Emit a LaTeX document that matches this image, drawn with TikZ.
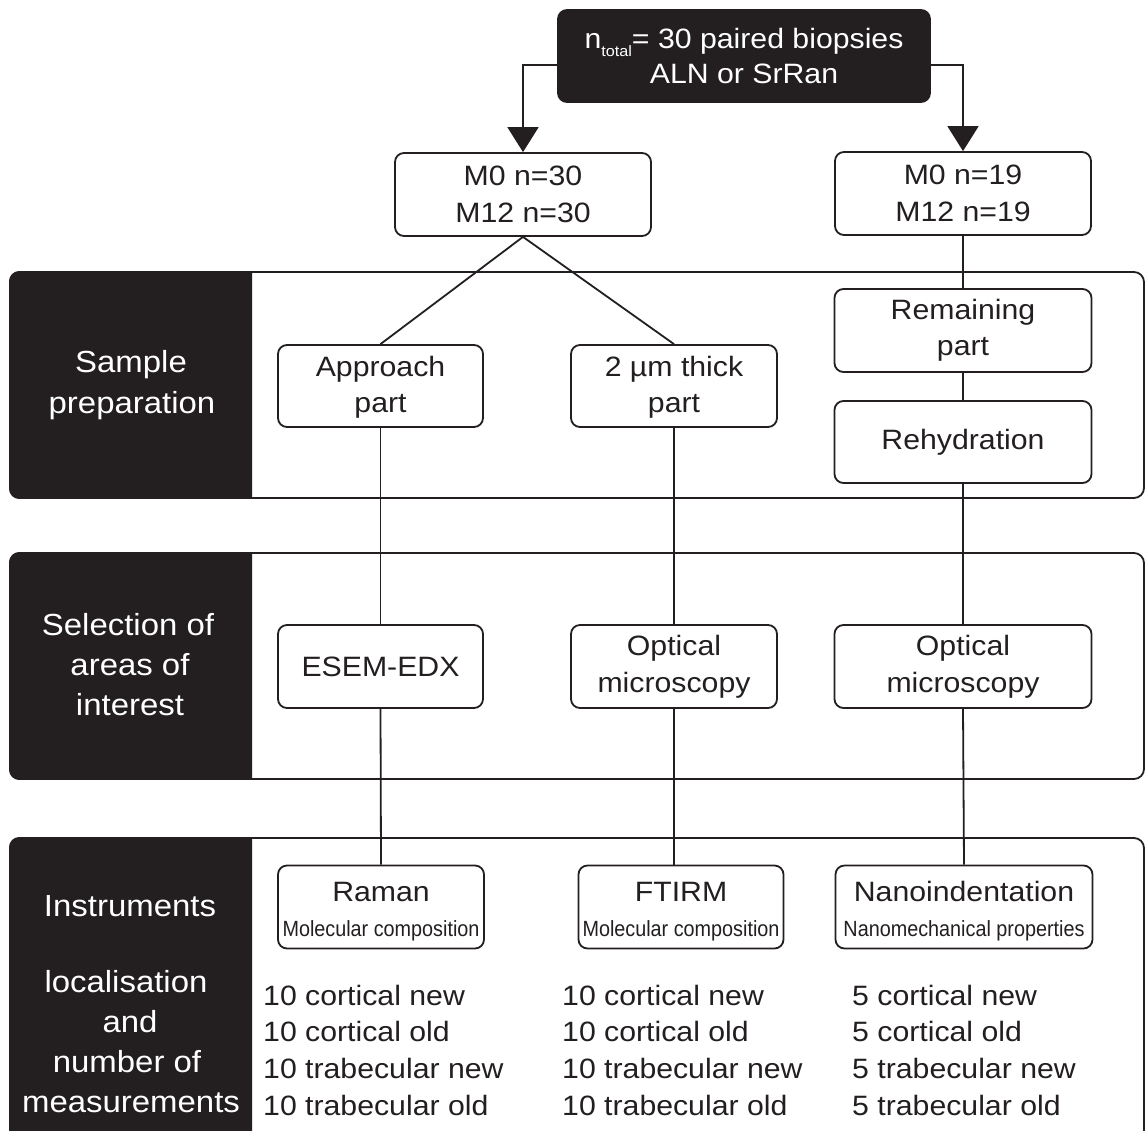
\documentclass[tikz,border=0pt]{standalone}
\usepackage{fontspec}
\setmainfont{Liberation Sans}[FakeStretch=1.08]
\newfontfamily\narrowf{Liberation Sans}[FakeStretch=0.9]
\usetikzlibrary{arrows.meta}
\definecolor{ink}{RGB}{35,31,32}
\newcommand{\subf}{\narrowf\fontsize{22}{26}\selectfont}
\newcommand{\topstrut}{\rule{0pt}{29pt}}
\begin{document}
\begin{tikzpicture}[x=1pt,y=-1pt,
  box/.style={draw=ink, line width=1.8pt, rounded corners=9pt, fill=white, align=center, inner sep=0pt,
    text=ink, font=\fontsize{28}{36.5}\selectfont},
  blackbox/.style={box, fill=ink, text=white},
  conn/.style={draw=ink, line width=1.8pt},
  band/.style={draw=ink, line width=1.8pt, rounded corners=10pt},
  lab/.style={text=white, font=\fontsize{30.5}{40}\selectfont, anchor=base, inner sep=0pt},
  data/.style={text=ink, font=\fontsize{28}{36.7}\selectfont, anchor=base west, inner sep=0pt},
  tip/.style={-{Triangle[width=31pt,length=25pt]}}
]
\useasboundingbox (0,0) rectangle (1145,1130);
\fill[white] (0,0) rectangle (1145,1130);

% bands
\begin{scope}
\clip (0,0) rectangle (1145,1130);
\draw[band] (10,272) rectangle (1144,498);
\draw[band] (10,553) rectangle (1144,779);
\draw[band] (10,838) rectangle (1144,1170);
\begin{scope}
\clip (0,0) rectangle (252,1130);
\fill[ink, rounded corners=10pt] (9.1,271.1) rectangle (300,498.9);
\fill[ink, rounded corners=10pt] (9.1,552.1) rectangle (300,779.9);
\fill[ink, rounded corners=10pt] (9.1,837.1) rectangle (300,1170);
\end{scope}
\end{scope}

% left labels
\node[lab] (s1a) at (131,372) {Sample};
\node[lab] (s1b) at (132,413) {preparation};
\node[lab] (s2a) at (128,635) {Selection of};
\node[lab] (s2b) at (130,675) {areas of};
\node[lab] (s2c) at (130,715) {interest};
\node[lab] (s3a) at (130,916) {Instruments};
\node[lab] (s3b) at (126,992) {localisation};
\node[lab] (s3c) at (130,1032) {and};
\node[lab] (s3d) at (127,1072) {number of};
\node[lab] (s3e) at (131,1112) {measurements};

% boxes
\node[blackbox, minimum width=372pt, minimum height=92pt] (top) at (744,56)
  {n\raisebox{-8pt}{\fontsize{15}{15}\selectfont total}= 30 paired biopsies\\[-1pt]ALN or SrRan};
\node[box, minimum width=256pt, minimum height=83pt] (m30) at (523,194.5) {M0 n=30\\M12 n=30};
\node[box, minimum width=256pt, minimum height=83pt] (m19) at (963,193.5) {M0 n=19\\M12 n=19};
\node[box, minimum width=205pt, minimum height=82pt] (appr) at (380.5,386) {\rule{0pt}{23pt}Approach\\part};
\node[box, minimum width=206pt, minimum height=82pt] (thick) at (674,386) {\rule{0pt}{23pt}2 µm thick\\part};
\node[box, minimum width=257pt, minimum height=83pt] (rem) at (963,330.5) {Remaining\\part};
\node[box, minimum width=257pt, minimum height=82pt] (rehy) at (963,442) {Rehydration};
\node[box, minimum width=205pt, minimum height=83pt] (esem) at (380.5,666.5) {ESEM-EDX};
\node[box, minimum width=206pt, minimum height=83pt] (opt1) at (674,666.5) {Optical\\microscopy};
\node[box, minimum width=257pt, minimum height=83pt] (opt2) at (963,666.5) {Optical\\microscopy};
\node[box, minimum width=206pt, minimum height=83pt] (raman) at (381,907) {\topstrut Raman\\[-1pt]{\subf Molecular composition}};
\node[box, minimum width=205pt, minimum height=83pt] (ftirm) at (681,907) {\topstrut FTIRM\\[-1pt]{\subf Molecular composition}};
\node[box, minimum width=257pt, minimum height=83pt] (nano) at (964,907) {\topstrut Nanoindentation\\[-1pt]{\subf Nanomechanical properties}};

% connectors
\draw[conn, tip] ([yshift=-9pt]top.west) -| (m30.north);
\draw[conn, tip] ([yshift=-9pt]top.east) -| (m19.north);
\draw[conn] (m30.south) -- (appr.north);
\draw[conn] (m30.south) -- (thick.north);
\draw[conn] (m19.south) -- (rem.north);
\draw[conn] (rem.south) -- (rehy.north);
\draw[conn] (rehy.south) -- (opt2.north);
\draw[conn] (opt2.south) -- (nano.north);
\draw[conn] (appr.south) -- (esem.north);
\draw[conn] (esem.south) -- (raman.north);
\draw[conn] (thick.south) -- (opt1.north);
\draw[conn] (opt1.south) -- (opt1.south |- ftirm.north);

% measurement lists
\foreach \t [count=\i] in {10 cortical new,10 cortical old,10 trabecular new,10 trabecular old}
  \node[data] (ra\i) at (263,{1005+36.7*(\i-1)}) {\t};
\foreach \t [count=\i] in {10 cortical new,10 cortical old,10 trabecular new,10 trabecular old}
  \node[data] (ft\i) at (562,{1005+36.7*(\i-1)}) {\t};
\foreach \t [count=\i] in {5 cortical new,5 cortical old,5 trabecular new,5 trabecular old}
  \node[data] (na\i) at (852,{1005+36.7*(\i-1)}) {\t};
\end{tikzpicture}
\end{document}
